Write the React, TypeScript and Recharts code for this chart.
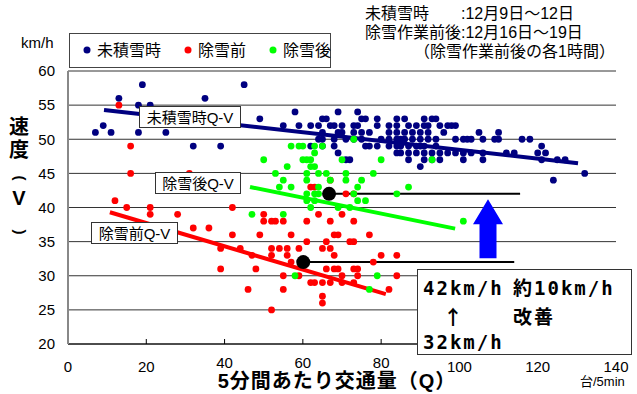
import { ScatterChart, Scatter, XAxis, YAxis, CartesianGrid, ReferenceLine } from "recharts";

const FONT = '"Liberation Sans", "Noto Sans CJK JP", sans-serif';
const MONO = '"DejaVu Sans Mono", "Noto Sans CJK JP", monospace';

const xTicks = [0, 20, 40, 60, 80, 100, 120, 140];
const yTicks = [20, 25, 30, 35, 40, 45, 50, 55, 60];
// these three labels sit a little higher so the axis title fits under them
const raisedTicks = [40, 60, 80];

// [Q 台/5min, V km/h]
const noSnow: [number, number][] = [
  [19, 58], [45, 58], [13, 56], [35, 56], [18, 55], [21, 55],
  [58, 54], [69, 54], [74, 54],
  [49, 53], [65, 53], [66, 53], [75, 53], [76, 53], [79, 53], [84, 53], [86, 53], [91, 53], [93, 53], [94, 53],
  [9, 52], [55, 52], [59, 52], [62, 52], [64, 52], [67, 52], [68, 52], [70, 52], [73, 52], [74, 52], [79, 52],
  [82, 52], [84, 52], [87, 52], [89, 52], [91, 52], [92, 52], [95, 52], [97, 52], [98, 52], [99, 52],
  [7, 51], [11, 51], [18, 51], [25, 51], [65, 51], [69, 51], [70, 51], [73, 51], [75, 51], [77, 51],
  [82, 51], [84, 51], [86, 51], [88, 51], [90, 51], [92, 51], [96, 51], [105, 51], [110, 51],
  [64, 50], [65, 50], [68, 50], [71, 50], [73, 50], [75, 50], [80, 50], [82, 50], [84, 50], [85, 50], [86, 50],
  [88, 50], [90, 50], [92, 50], [94, 50], [99, 50], [101, 50], [102, 50], [103, 50], [106, 50], [109, 50],
  [110, 50], [116, 50], [118, 50],
  [32, 49], [39, 49], [62, 49], [65, 49], [68, 49], [76, 49], [77, 49], [79, 49], [82, 49], [84, 49], [85, 49],
  [87, 49], [89, 49], [90, 49], [91, 49], [94, 49], [121, 49],
  [69, 48], [84, 48], [85, 48], [87, 48], [89, 48], [91, 48], [93, 48], [95, 48], [97, 48], [99, 48], [101, 48],
  [103, 48], [106, 48], [112, 48], [114, 48], [120, 48], [122, 48],
  [71, 47], [72, 47], [87, 47], [91, 47], [93, 47], [95, 47], [101, 47], [106, 47], [121, 47], [125, 47], [127, 47],
  [90, 46], [132, 45], [124, 44],
];

const beforeClear: [number, number][] = [
  [13, 55], [16, 49], [16, 45], [31, 45], [12, 41], [15, 40], [21, 40], [42, 40],
  [21, 39], [28, 39], [50, 39], [64, 39], [70, 39],
  [50, 38], [52, 38], [53, 38], [55, 38], [61, 38], [67, 38], [73, 38],
  [32, 37], [36, 37], [42, 36], [49, 36], [57, 36], [68, 36], [69, 36], [77, 36],
  [61, 35], [66, 35], [72, 35], [73, 35],
  [62, 43], [63, 43], [67, 44], [71, 42], [73, 42],
  [39, 34], [44, 34], [52, 34], [54, 34], [56, 34], [59, 34], [65, 34], [67, 34],
  [47, 33], [52, 33], [56, 33], [68, 33], [80, 33], [84, 33], [57, 32], [78, 32],
  [39, 31], [48, 31], [66, 31], [68, 31], [69, 31], [73, 31], [74, 31],
  [55, 30], [59, 30], [70, 30], [74, 30], [84, 30],
  [62, 29], [63, 29], [65, 29], [67, 29], [70, 29], [73, 29],
  [46, 28], [55, 28], [82, 28], [65, 27], [65, 26], [52, 25],
];

const afterClear: [number, number][] = [
  [57, 49], [59, 49], [60, 49], [63, 49], [65, 49], [73, 50], [63, 48],
  [50, 47], [60, 47], [61, 47], [62, 47], [70, 47], [80, 47], [93, 47],
  [56, 46], [62, 46], [63, 46],
  [53, 45], [61, 45], [64, 45], [66, 45], [71, 45], [78, 45],
  [55, 44], [61, 44], [67, 44], [71, 44], [75, 44],
  [54, 43], [57, 43], [64, 43], [74, 43], [87, 43],
  [61, 42], [63, 42], [64, 42], [73, 42], [84, 42],
  [61, 41], [63, 41], [74, 41], [76, 41],
  [62, 40], [69, 40], [72, 40], [47, 39], [55, 39], [101, 38],
  [58, 30], [79, 30], [77, 28],
];

// Q-V fitted lines: [q1, v1, q2, v2]
const noSnowFit = [9.2, 54.3, 130.3, 46.5];
const beforeFit = [10.7, 39.3, 81.2, 27.3];
const afterFit = [46.5, 43.0, 98.9, 36.9];

// average speed before / after clearing, with the guide line end
const averages = [
  { q: 60.1, v: 32, endQ: 114 },
  { q: 66.7, v: 42, endQ: 115.5 },
];
const arrowTip = [{ q: 107.3, v: 41.2 }];

const series = [
  { name: "未積雪時", color: "#000080", points: noSnow, fit: noSnowFit },
  { name: "除雪前", color: "#FF0000", points: beforeClear, fit: beforeFit },
  { name: "除雪後", color: "#00FF00", points: afterClear, fit: afterFit },
];

const fitLabels = [
  { text: "未積雪時Q-V", x: 139, y: 106, w: 101 },
  { text: "除雪後Q-V", x: 155, y: 172, w: 85 },
  { text: "除雪前Q-V", x: 91, y: 222, w: 86 },
];

const legendX = [87, 188, 273];

function dot(color: string, r: number) {
  return (props: any) => <circle cx={props.cx} cy={props.cy} r={r} fill={color} />;
}

function Arrow(props: any) {
  const { cx, cy } = props;
  const pts = [
    [cx, cy], [cx + 15, cy + 25], [cx + 8.5, cy + 25], [cx + 8.5, cy + 59],
    [cx - 8.5, cy + 59], [cx - 8.5, cy + 25], [cx - 15, cy + 25],
  ];
  return <polygon points={pts.map((p) => p.join(",")).join(" ")} fill="#0000FF" />;
}

function XTick(props: any) {
  const { x, y, payload } = props;
  const lift = raisedTicks.includes(payload.value) ? 4 : 0;
  return (
    <text x={x} y={y + 16 - lift} textAnchor="middle" fontSize={15} fontFamily={FONT} fill="#000">
      {payload.value}
    </text>
  );
}

// a bracket turned on its side for the vertical axis title
function SideParen({ ch, cy }: { ch: string; cy: number }) {
  return (
    <text
      x={19}
      y={cy + 4}
      fontSize={15}
      fontWeight="bold"
      textAnchor="middle"
      transform={`rotate(90 19 ${cy})`}
    >
      {ch}
    </text>
  );
}

function Notes() {
  return (
    <svg
      width={637}
      height={394}
      style={{ position: "absolute", left: 0, top: 0, pointerEvents: "none" }}
      fontFamily={FONT}
    >
      <text x={21} y={48} fontSize={15}>km/h</text>

      <rect x={69.5} y={33.5} width={261} height={34} fill="#fff" stroke="#444" />
      {series.map((s, i) => (
        <g key={s.name}>
          <circle cx={legendX[i]} cy={50} r={3.5} fill={s.color} />
          <text x={legendX[i] + 10} y={56} fontSize={16}>{s.name}</text>
        </g>
      ))}

      <g fontSize={16}>
        <text x={365} y={19}>未積雪時</text>
        <text x={461} y={19}>:12月9日～12日</text>
        <text x={365} y={38}>除雪作業前後:12月16日～19日</text>
        <text x={414} y={57}>（除雪作業前後の各1時間）</text>
      </g>

      <g fontSize={20} fontWeight="bold" textAnchor="middle">
        <text x={19} y={134}>速</text>
        <text x={19} y={157}>度</text>
        <text x={19} y={205}>V</text>
      </g>
      <SideParen ch="(" cy={178} />
      <SideParen ch=")" cy={232} />

      <text x={337} y={388} fontSize={20} fontWeight="bold" textAnchor="middle" letterSpacing={1}>
        5分間あたり交通量（Q）
      </text>
      <text x={580} y={386} fontSize={13}>台/5min</text>

      {fitLabels.map((l) => (
        <g key={l.text}>
          <rect x={l.x + 0.5} y={l.y + 0.5} width={l.w} height={21} fill="#fff" stroke="#333" />
          <text x={l.x + l.w / 2 + 0.5} y={l.y + 16.5} fontSize={15} textAnchor="middle">
            {l.text}
          </text>
        </g>
      ))}

      <rect x={417.5} y={269.5} width={214} height={85} fill="#fff" stroke="#333" />
      <g fontFamily={MONO} fontSize={19} fontWeight="bold" letterSpacing={2}>
        <text x={423} y={295}>42km/h</text>
        <text x={513} y={295}>約10km/h</text>
        <text x={513} y={324}>改善</text>
        <text x={423} y={349}>32km/h</text>
      </g>
      <text x={443} y={325} fontSize={20} fontWeight="bold" fontFamily='"Noto Sans CJK JP"'>↑</text>
    </svg>
  );
}

export default function App() {
  return (
    <div style={{ position: "absolute", left: 0, top: 0, width: 637, height: 394, background: "#fff" }}>
      <ScatterChart width={637} height={394} margin={{ top: 71, right: 21, bottom: 20, left: 8 }}>
        <CartesianGrid vertical={false} stroke="#333" />
        <XAxis
          type="number"
          dataKey="q"
          domain={[0, 140]}
          ticks={xTicks}
          height={30}
          tickSize={-5}
          tickMargin={17}
          tick={<XTick />}
          axisLine={{ stroke: "#000" }}
          tickLine={{ stroke: "#000" }}
        />
        <YAxis
          type="number"
          dataKey="v"
          domain={[20, 60]}
          ticks={yTicks}
          width={60}
          tickLine={false}
          tickSize={6}
          tickMargin={7}
          axisLine={{ stroke: "#888", strokeWidth: 2 }}
          tick={{ fontSize: 15, fill: "#000", fontFamily: FONT }}
        />
        {series.map((s) => (
          <Scatter
            key={s.name}
            name={s.name}
            data={s.points.map(([q, v]) => ({ q, v }))}
            shape={dot(s.color, 3.4)}
            isAnimationActive={false}
          />
        ))}
        {series.map((s) => (
          <ReferenceLine
            key={s.name + "fit"}
            segment={[
              { x: s.fit[0], y: s.fit[1] },
              { x: s.fit[2], y: s.fit[3] },
            ]}
            stroke={s.color}
            strokeWidth={4}
            ifOverflow="visible"
          />
        ))}
        {averages.map((a) => (
          <ReferenceLine
            key={a.v}
            segment={[
              { x: a.q, y: a.v },
              { x: a.endQ, y: a.v },
            ]}
            stroke="#000"
            strokeWidth={2}
            ifOverflow="visible"
          />
        ))}
        <Scatter name="平均" data={averages} shape={dot("#000", 7)} isAnimationActive={false} />
        <Scatter name="arrow" data={arrowTip} shape={Arrow} isAnimationActive={false} />
      </ScatterChart>
      <Notes />
    </div>
  );
}
